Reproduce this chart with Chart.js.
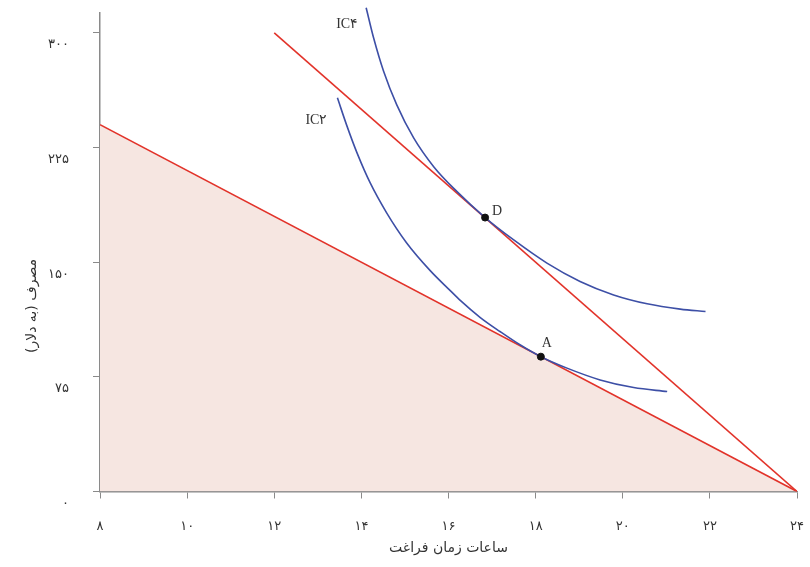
<!DOCTYPE html>
<html>
<head>
<meta charset="utf-8">
<script src="https://cdn.jsdelivr.net/npm/chart.js@4"></script>
<style>
  body { margin: 0; background: #fff; }
  #chart { display: block; }
</style>
</head>
<body>
<canvas id="chart" width="810" height="567"></canvas>
<script>
// data
const lowWageHours = [8, 24];
const lowWageCons = [240, 0];
const highWageHours = [12, 24];
const highWageCons = [300, 0];

const ic2Hours = [13.45, 13.67, 13.9, 14.2, 14.58, 15.04, 15.58, 16.04, 16.27, 16.73, 17.19, 17.65, 18.12, 18.72, 19.48, 20.25, 21.02];
const ic2Cons = [257.5, 239, 221.5, 202, 182.3, 162.6, 144.5, 131.4, 125, 113.8, 104.5, 95.8, 88.2, 80.7, 73.0, 68.0, 65.4];

const ic4Hours = [14.11, 14.28, 14.51, 14.81, 15.2, 15.66, 16.19, 16.84, 17.49, 18.26, 19.02, 19.79, 20.56, 21.32, 21.9];
const ic4Cons = [316.4, 296.8, 274.9, 253.1, 231.3, 212.5, 196.3, 179.2, 164.7, 149.4, 137.4, 128.6, 122.8, 119.3, 117.7];

const curveNames = ["IC۲", "IC۴"];
const pointNames = ["A", "D"];
const pointHours = [18.12, 16.84];
const pointCons = [88.2, 179.2];

const xTicks = [8, 10, 12, 14, 16, 18, 20, 22, 24];
const yTicks = [0, 75, 150, 225, 300];

const xTitle = "ساعات زمان فراغت";
const yTitle = "مصرف (به دلار)";

const RED = "#e2332a";
const BLUE = "#3d4fa6";
const AXIS = "#8a8a8a";

function toFa(n) {
  return String(n).replace(/\d/g, (d) => "۰۱۲۳۴۵۶۷۸۹"[d]);
}

function pairs(xs, ys) {
  return xs.map((x, i) => ({ x: x, y: ys[i] }));
}

// labels next to the curves and points
const labelPlugin = {
  id: "labels",
  afterDatasetsDraw(chart) {
    const ctx = chart.ctx;
    const xs = chart.scales.x;
    const ys = chart.scales.y;
    ctx.save();
    ctx.fillStyle = "#333";
    ctx.font = "14px 'Liberation Serif', 'DejaVu Serif', serif";
    ctx.textAlign = "center";
    ctx.textBaseline = "middle";

    // curve names, just left of where each curve starts
    const starts = [
      [ic2Hours[0], ic2Cons[0], -21, 22],
      [ic4Hours[0], ic4Cons[0], -19, 17],
    ];
    starts.forEach((s, i) => {
      ctx.fillText(curveNames[i], xs.getPixelForValue(s[0]) + s[2], ys.getPixelForValue(s[1]) + s[3]);
    });

    const offs = [[6, -13], [12, -6]];
    pointNames.forEach((name, i) => {
      ctx.fillText(name, xs.getPixelForValue(pointHours[i]) + offs[i][0], ys.getPixelForValue(pointCons[i]) + offs[i][1]);
    });

    // y title, rotated
    ctx.font = "14px 'DejaVu Sans', sans-serif";
    ctx.fillStyle = "#333";
    ctx.translate(32, 306);
    ctx.rotate(-Math.PI / 2);
    ctx.fillText(yTitle, 0, 0);
    ctx.restore();
  },
};

new Chart(document.getElementById("chart"), {
  type: "scatter",
  data: {
    datasets: [
      {
        data: pairs(pointHours, pointCons),
        backgroundColor: "#111",
        borderColor: "#111",
        pointRadius: 3.5,
        order: 0,
      },
      {
        data: pairs(ic2Hours, ic2Cons),
        showLine: true,
        borderColor: BLUE,
        borderWidth: 1.6,
        pointRadius: 0,
        cubicInterpolationMode: "monotone",
        order: 1,
      },
      {
        data: pairs(ic4Hours, ic4Cons),
        showLine: true,
        borderColor: BLUE,
        borderWidth: 1.6,
        pointRadius: 0,
        cubicInterpolationMode: "monotone",
        clip: false,
        order: 1,
      },
      {
        data: pairs(highWageHours, highWageCons),
        showLine: true,
        borderColor: RED,
        borderWidth: 1.6,
        pointRadius: 0,
        order: 2,
      },
      {
        data: pairs(lowWageHours, lowWageCons),
        showLine: true,
        borderColor: RED,
        borderWidth: 1.6,
        pointRadius: 0,
        fill: "origin",
        backgroundColor: "#f6e6e1",
        order: 3,
      },
    ],
  },
  options: {
    responsive: false,
    animation: false,
    devicePixelRatio: 1,
    layout: { padding: { top: 13, right: 13, left: 0, bottom: 0 } },
    plugins: {
      legend: { display: false },
      tooltip: { enabled: false },
    },
    scales: {
      x: {
        type: "linear",
        min: 8,
        max: 24,
        afterBuildTicks: (s) => { s.ticks = xTicks.map((v) => ({ value: v })); },
        afterFit: (s) => {
          s.height = 75.5;
          s.paddingLeft = 0;
          s.paddingRight = 0;
        },
        grid: { drawOnChartArea: false, drawTicks: true, tickLength: 7, color: AXIS },
        border: { color: AXIS, width: 1.5 },
        ticks: {
          padding: 20,
          color: "#333",
          font: { family: "'DejaVu Sans', sans-serif", size: 13 },
          callback: (v) => toFa(v),
        },
        title: {
          display: true,
          text: xTitle,
          color: "#333",
          font: { family: "'DejaVu Sans', sans-serif", size: 14 },
          padding: { top: 0, bottom: 10 },
        },
      },
      y: {
        type: "linear",
        min: 0,
        max: 313,
        afterBuildTicks: (s) => { s.ticks = yTicks.map((v) => ({ value: v })); },
        afterFit: (s) => {
          s.width = 100;
          s.paddingTop = 0;
          s.paddingBottom = 0;
        },
        grid: { drawOnChartArea: false, drawTicks: true, tickLength: 7, color: AXIS },
        border: { color: AXIS, width: 1.5 },
        ticks: {
          padding: 24,
          labelOffset: 12,
          color: "#333",
          font: { family: "'DejaVu Sans', sans-serif", size: 13 },
          callback: (v) => toFa(v),
        },
      },
    },
  },
  plugins: [labelPlugin],
});
</script>
</body>
</html>
